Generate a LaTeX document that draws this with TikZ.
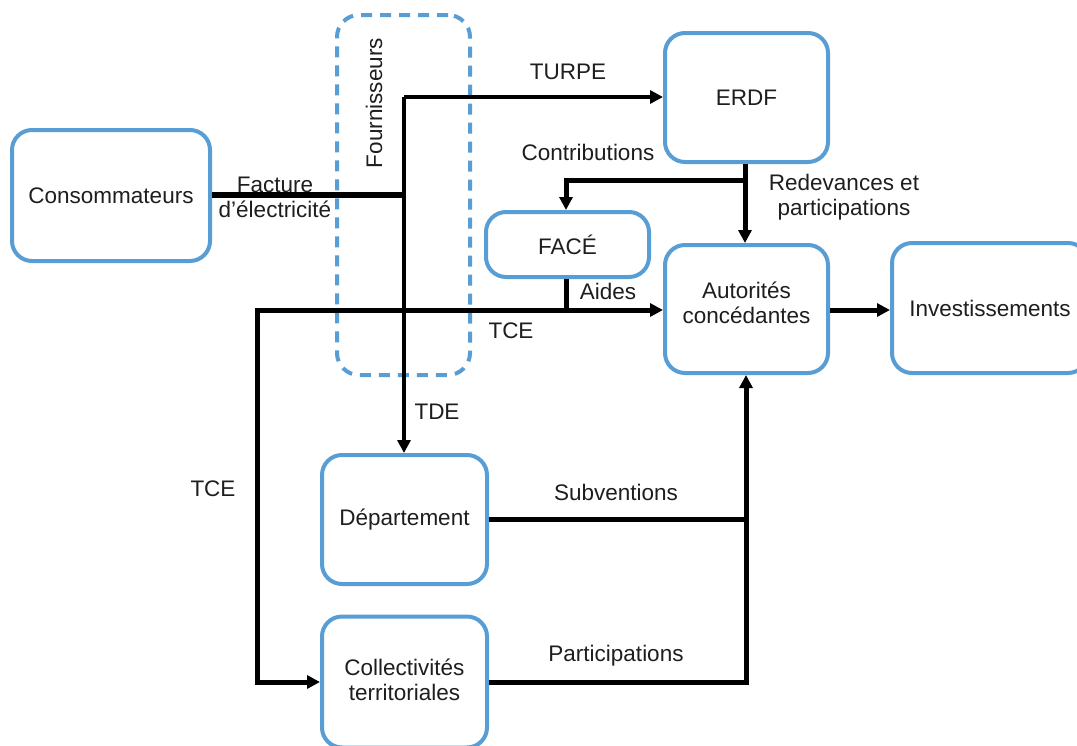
\documentclass[tikz,border=0pt]{standalone}
\usepackage{fontspec}
\setmainfont{Liberation Sans}
\usetikzlibrary{arrows.meta,calc}
\definecolor{boxblue}{RGB}{88,158,212}
\definecolor{txt}{RGB}{30,30,30}
\begin{document}
\begin{tikzpicture}[x=1pt,y=-1pt,
  box/.style={draw=boxblue,line width=4pt,rounded corners=20pt,inner sep=0pt,align=center,
    font=\fontsize{22.5}{25}\selectfont,text=txt},
  lbl/.style={inner sep=0pt,align=center,font=\fontsize{22.5}{25}\selectfont,text=txt},
  link/.style={line width=5pt},
  thin/.style={line width=3.8pt},
  arr/.style={-{Triangle[length=13pt,width=13pt]}}]
\useasboundingbox (0,0) rectangle (1077,745);
\fill[white] (0,0) rectangle (1077,745);

% Fournisseurs dashed box
\node[draw=boxblue,line width=4pt,dash pattern=on 11pt off 8pt,rounded corners=22pt,
  minimum width=133pt,minimum height=360pt] (four) at (403.5,195) {};
\node[lbl,rotate=90] (fourl) at (374,103) {Fournisseurs};

% boxes
\node[box,minimum width=198pt,minimum height=131pt] (cons) at (111,195.5) {Consommateurs};
\node[box,minimum width=163pt,minimum height=129pt] (erdf) at (746.5,97.5) {ERDF};
\node[box,minimum width=163pt,minimum height=65pt] (face) at (567.5,244.5) {FACÉ};
\node[box,minimum width=163pt,minimum height=128pt] (aut) at (746.5,309) {};
\node[lbl] (autl) at (746.5,302.5) {Autorités\\concédantes};
\node[box,minimum width=196pt,minimum height=130pt] (inv) at (990,308) {Investissements};
\node[box,minimum width=165pt,minimum height=129pt] (dept) at (404.5,519.5) {Département};
\node[box,minimum width=165pt,minimum height=131pt] (coll) at (404.5,682) {};
\node[lbl] (colll) at (404.5,680) {Collectivités\\territoriales};

% junction coordinates
\coordinate (t1) at (404,97);
\coordinate (f1) at (404,195);
\coordinate (c1) at (745,180);
\coordinate (c2) at (566,180);
\coordinate (a1) at (566,310);
\coordinate (k1) at (257,310);
\coordinate (k2) at (257,682);
\coordinate (s1) at (746,519);
\coordinate (p1) at (746,682);

% connectors
\draw[line width=5.5pt] (cons.east |- f1) -- (f1);
\draw[thin,arr] (t1) -- (dept.north -| t1);
\draw[thin,arr] (t1) -- (erdf.west |- t1);
\draw[link,arr] (erdf.south -| c1) -- (aut.north -| c1);
\draw[link,arr] (c1) -- (c2) -- (face.north -| c2);
\draw[link] (face.south -| a1) -- (a1);
\draw[link,arr] (k2) -- (k1) -- (aut.west |- k1);
\draw[link,arr] (k1) -- (k2) -- (coll.west |- k2);
\draw[link,arr] (aut.east |- 0,310) -- (inv.west |- 0,310);
\draw[link] (dept.east |- s1) -- (s1);
\draw[link,arr] (coll.east |- p1) -- (p1) -- (aut.south -| p1);

% labels
\node[lbl] (lturpe) at (568,72) {TURPE};
\node[lbl] (lfact) at (275,197.5) {Facture\\d’électricité};
\node[lbl] (lcontr) at (588,152) {Contributions};
\node[lbl] (lredev) at (844,197.5) {Redevances et\\participations};
\node[lbl] (laides) at (608,291) {Aides};
\node[lbl] (ltce1) at (511,331) {TCE};
\node[lbl] (ltde) at (437,412) {TDE};
\node[lbl] (ltce2) at (213,489) {TCE};
\node[lbl] (lsubv) at (616,492) {Subventions};
\node[lbl] (lpart) at (616,656) {Participations};
\end{tikzpicture}
\end{document}
